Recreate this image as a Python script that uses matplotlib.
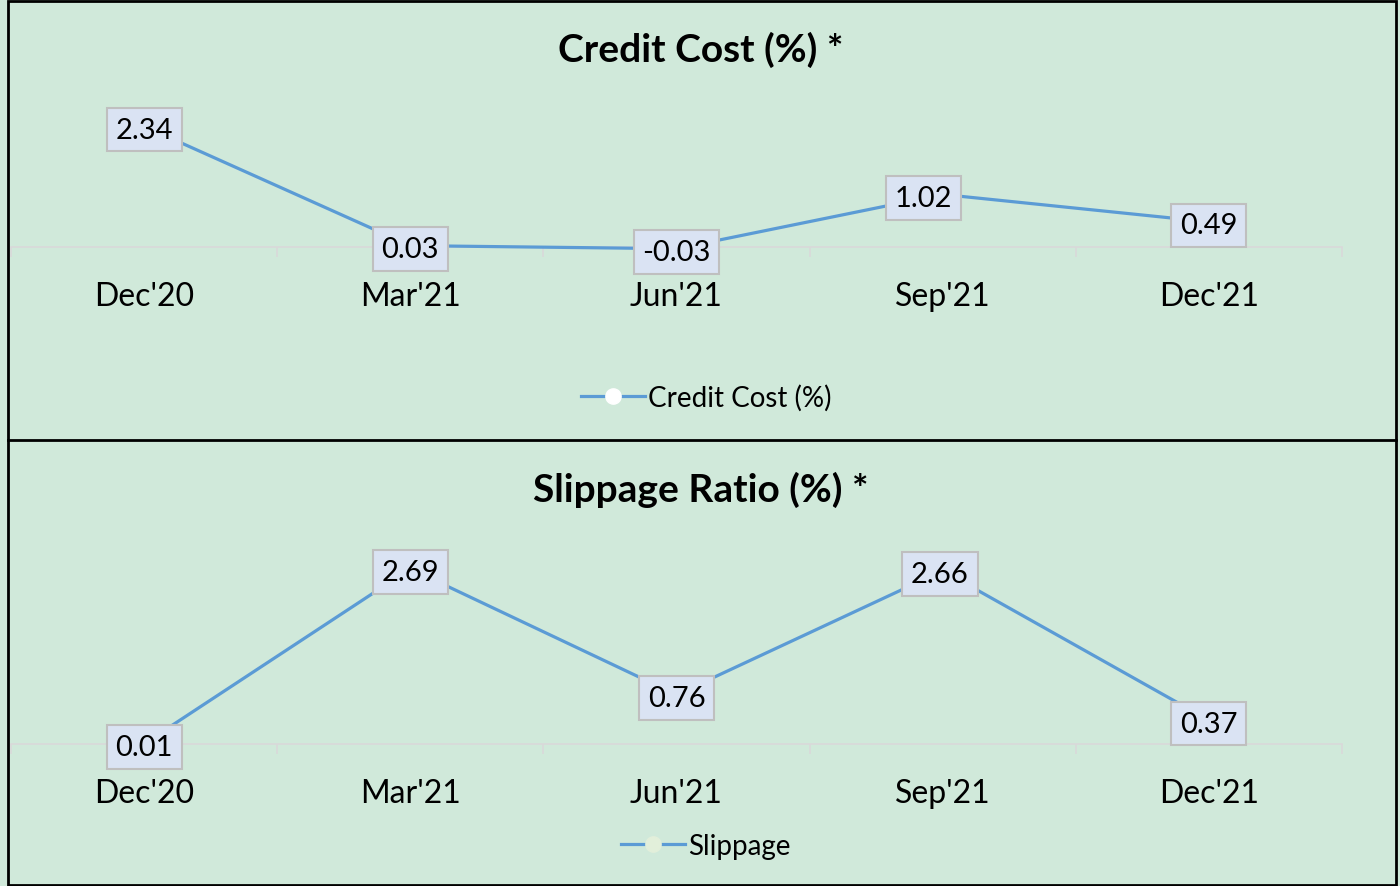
import matplotlib.pyplot as plt
from matplotlib.lines import Line2D
from matplotlib.patches import Rectangle

plt.rcParams['font.family'] = ['Lato', 'DejaVu Sans']

quarters = ["Dec'20", "Mar'21", "Jun'21", "Sep'21", "Dec'21"]
credit_cost = [2.34, 0.03, -0.03, 1.02, 0.49]
slippage = [0.01, 2.69, 0.76, 2.66, 0.37]

bg = '#D0E9DA'
line_col = '#5B9BD5'
W, H = 1400, 887

fig = plt.figure(figsize=(W / 100, H / 100), dpi=100)
fig.patch.set_facecolor(bg)


def px_axes(left, right, top, bottom):
    return fig.add_axes([left / W, 1 - bottom / H, (right - left) / W, (bottom - top) / H])


def draw_panel(ax, values, ylim, marker_face, legend_label, legend_y, label_dx):
    ax.set_facecolor('none')
    x = list(range(len(values)))
    ax.plot(x, values, color=line_col, lw=2.3, marker='o', markersize=11,
            markerfacecolor=marker_face, markeredgecolor=marker_face, zorder=3)
    ax.set_xlim(-0.5, len(values) - 0.5)
    ax.set_ylim(*ylim)
    for s in ['top', 'left', 'right']:
        ax.spines[s].set_visible(False)
    ax.spines['bottom'].set_position(('data', 0))
    ax.spines['bottom'].set_color('#D9D9D9')
    ax.spines['bottom'].set_linewidth(1.2)
    ax.set_yticks([])
    ax.set_xticks([i - 0.5 for i in range(len(values) + 1)])
    ax.set_xticklabels([])
    ax.tick_params(axis='x', which='major', length=7, color='#D9D9D9', width=1.2)
    ax.set_xticks(x, minor=True)
    ax.set_xticklabels(quarters, minor=True, fontsize=23)
    ax.tick_params(axis='x', which='minor', length=0, pad=24)
    for i, v in enumerate(values):
        ax.annotate('%.2f' % v, (i, v), xytext=(label_dx[i], -2.5), textcoords='offset points',
                    ha='center', va='center', fontsize=21, zorder=5,
                    bbox=dict(boxstyle='square,pad=0.3', fc='#DAE3F3', ec='#BFBFBF', lw=1.5))
    handle = Line2D([], [], color=line_col, lw=2.3, marker='o', markersize=11,
                    markerfacecolor=marker_face, markeredgecolor=marker_face)
    fig.legend([handle], [legend_label], loc='center', bbox_to_anchor=(706 / W, 1 - legend_y / H),
               frameon=False, fontsize=20, handlelength=2.3, handletextpad=0.1)


ax1 = px_axes(11, 1342, 119, 274)
draw_panel(ax1, credit_cost, (-0.5, 2.5), 'white', 'Credit Cost (%)', 398, [0, 0, 0, -14, 0])
fig.text(701 / W, 1 - 50 / H, 'Credit Cost (%) *', ha='center', va='center',
         fontsize=28, fontweight='bold')

ax2 = px_axes(11, 1342, 556, 765)
draw_panel(ax2, slippage, (-0.3, 2.9), '#E2EFDA', 'Slippage', 847, [0, 0, 0, -2, 0])
fig.text(701 / W, 1 - 490 / H, 'Slippage Ratio (%) *', ha='center', va='center',
         fontsize=28, fontweight='bold')

# panel borders
fig.patches.append(Rectangle((8 / W, 1 / H), (1396 - 8) / W, (885 - 1) / H, transform=fig.transFigure,
                             fill=False, ec='black', lw=2))
fig.lines.append(Line2D([8 / W, 1396 / W], [1 - 441 / H, 1 - 441 / H], transform=fig.transFigure,
                        color='black', lw=2))

fig.savefig('out.png', dpi=100, facecolor=bg)
